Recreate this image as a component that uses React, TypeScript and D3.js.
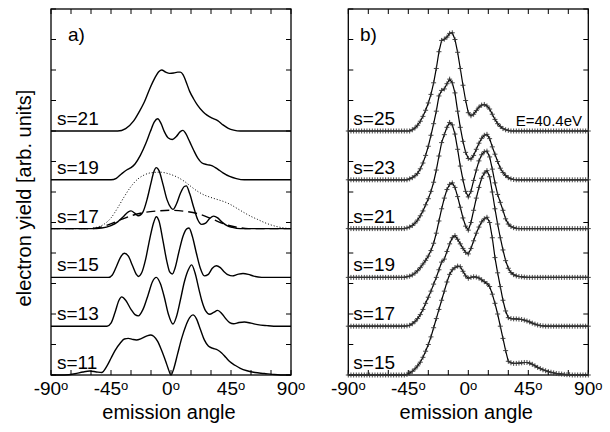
import React, { useEffect, useRef } from "react";
import * as d3 from "d3";

// panel a) : [angle, yield] pairs, bottom curve first
const A_LABELS = ["s=11", "s=13", "s=15", "s=17", "s=19", "s=21"];
const OFFSETS = [0, 1.6, 3.2, 4.8, 6.4, 8.0];

const A_S11 = [[-90,0],[-80,0],[-72,0.04],[-66,0.1],[-61,0.13],[-56,0.1],[-52,0.08],[-48,0.3],[-45,0.55],[-42,0.8],[-38,1.05],[-35,1.18],[-32,1.2],[-29,1.17],[-26,1.15],[-22,1.2],[-18,1.28],[-15.5,1.31],[-13,1.27],[-10,1.1],[-7,0.8],[-4,0.45],[-2,0.2],[0,0],[2,0.2],[5,0.7],[8,1.2],[11,1.6],[14,1.88],[16.5,1.97],[19,1.85],[22,1.5],[25,1.15],[28,0.95],[31,0.88],[35,0.82],[38,0.72],[41,0.58],[44,0.44],[48,0.32],[52,0.22],[57,0.14],[63,0.08],[70,0.05],[76,0.02],[82,0],[90,0]];
const A_S13 = [[-90,0],[-48,0],[-45,0.1],[-42,0.45],[-39,0.85],[-37,0.96],[-34,0.85],[-30,0.55],[-27,0.38],[-24.5,0.34],[-21,0.55],[-17,1.05],[-14,1.45],[-11,1.6],[-8,1.4],[-5,0.95],[-2,0.4],[1.5,0.07],[4,0.3],[7,0.85],[10,1.45],[13,1.85],[15.5,2.01],[18,1.75],[21,1.2],[23,0.85],[26,0.5],[29,0.39],[32,0.45],[35,0.52],[38,0.42],[41,0.25],[44,0.12],[47,0.08],[51,0.12],[55,0.14],[60,0.1],[65,0.05],[72,0.02],[80,0],[90,0]];
const A_S15 = [[-90,0],[-47,0],[-44,0.08],[-41,0.35],[-38,0.65],[-35,0.79],[-32,0.7],[-29,0.4],[-26,0.1],[-24.5,0.03],[-22,0.15],[-19,0.6],[-16,1.25],[-13,1.8],[-11,1.99],[-9,1.85],[-6,1.2],[-3,0.5],[-1,0.18],[1,0.11],[3,0.3],[6,0.85],[9,1.35],[12,1.6],[13.5,1.62],[16,1.35],[19,0.8],[22,0.3],[25,0.05],[28,0.1],[31,0.3],[34,0.38],[37,0.32],[40,0.18],[43,0.08],[46,0.05],[50,0.1],[54,0.13],[58,0.1],[62,0.04],[68,0],[90,0]];
const A_S17 = [[-90,0],[-60,0],[-52,0.02],[-45,0.1],[-40,0.22],[-36,0.38],[-32,0.55],[-30,0.58],[-27,0.5],[-24.5,0.42],[-21,0.55],[-18,0.95],[-15,1.5],[-13,1.85],[-11,2.0],[-9,1.9],[-6,1.45],[-3,0.95],[0,0.68],[1.5,0.63],[4,0.8],[7,1.15],[10,1.38],[11.5,1.4],[14,1.15],[17,0.7],[20,0.3],[23,0.14],[26,0.18],[29,0.33],[32,0.41],[35,0.35],[38,0.22],[42,0.1],[46,0.04],[52,0],[90,0]];
const A_S17_DASH = [[-90,0],[-60,0],[-50,0.08],[-40,0.25],[-30,0.42],[-20,0.53],[-10,0.58],[0,0.6],[10,0.57],[20,0.49],[30,0.33],[40,0.15],[50,0.04],[58,0],[90,0]];
const A_S17_DOT = [[-90,0],[-62,0],[-56,0.04],[-50,0.15],[-45,0.35],[-40,0.68],[-35,1.05],[-30,1.38],[-25,1.62],[-20,1.76],[-15,1.83],[-8,1.85],[-2,1.8],[5,1.68],[10,1.55],[15,1.38],[20,1.22],[25,1.1],[30,1.02],[35,0.95],[40,0.88],[45,0.78],[50,0.65],[55,0.52],[60,0.4],[65,0.3],[70,0.2],[75,0.12],[80,0.06],[85,0.02],[90,0]];
const A_S19 = [[-90,0],[-45,0],[-41,0.05],[-37,0.2],[-33,0.33],[-30,0.4],[-27,0.52],[-23,0.8],[-19,1.18],[-15.5,1.58],[-12.5,1.9],[-10,2.0],[-7.5,1.85],[-5,1.58],[-2,1.37],[1,1.32],[4,1.42],[7,1.58],[9,1.62],[11,1.52],[14,1.25],[17,0.97],[20,0.72],[23,0.56],[27,0.5],[31,0.46],[35,0.35],[39,0.23],[44,0.11],[49,0.04],[55,0],[90,0]];
const A_S21 = [[-90,0],[-40,0],[-34,0.08],[-28,0.33],[-24,0.62],[-20,0.95],[-16,1.38],[-12,1.75],[-9,1.95],[-7,2.0],[-4,1.93],[-1,1.89],[2,1.9],[5,1.93],[7,1.93],[9,1.85],[11,1.65],[14,1.3],[17,1.05],[20,0.84],[24,0.63],[27,0.52],[31,0.42],[35,0.34],[39,0.2],[43,0.09],[47,0.03],[52,0],[90,0]];

// panel b) : measured on a 2 degree grid, -90 .. 90
const B_LABELS = ["s=15", "s=17", "s=19", "s=21", "s=23", "s=25"];
const B_ANGLES = d3.range(-90, 91, 2);
const B_S15 = [
  0,0,0,0,0,0,0,0,0,0,
  0,0,0,0,0,0,0,0,0,0,
  0,0,0.02,0.06,0.12,0.2,0.3,0.42,0.58,0.78,
  1.0,1.25,1.55,1.85,2.15,2.45,2.75,3.05,3.3,3.45,
  3.52,3.57,3.55,3.4,3.25,3.17,3.2,3.22,3.21,3.18,
  3.12,3.06,3.0,2.9,2.65,2.35,2.0,1.6,1.2,0.8,
  0.45,0.4,0.38,0.38,0.39,0.4,0.41,0.41,0.39,0.35,
  0.3,0.25,0.21,0.17,0.14,0.11,0.09,0.07,0.05,0.04,
  0.03,0.02,0.01,0.01,0,0,0,0,0,0,
  0];
const B_S17 = [
  0,0,0,0,0,0,0,0,0,0,
  0,0,0,0,0,0,0,0,0,0,
  0,0,0.01,0.03,0.08,0.15,0.25,0.38,0.55,0.75,
  0.95,1.15,1.38,1.6,1.85,2.1,2.2,2.45,2.7,2.9,
  2.97,2.85,2.7,2.55,2.42,2.37,2.55,2.8,3.05,3.25,
  3.42,3.52,3.57,3.4,2.9,2.25,1.75,1.3,0.85,0.5,
  0.28,0.25,0.24,0.24,0.23,0.22,0.2,0.17,0.14,0.1,
  0.07,0.04,0.02,0.01,0,0,0,0,0,0,
  0,0,0,0,0,0,0,0,0,0,
  0];
const B_S19 = [
  0,0,0,0,0,0,0,0,0,0,
  0,0,0,0,0,0,0,0,0,0,
  0,0,0.02,0.04,0.08,0.14,0.22,0.32,0.44,0.56,
  0.7,0.88,1.12,1.45,1.85,2.25,2.6,2.88,3.05,3.1,
  2.95,2.65,2.3,1.95,1.68,1.55,1.8,2.2,2.6,2.95,
  3.25,3.42,3.5,3.3,2.8,2.25,1.75,1.3,0.9,0.55,
  0.3,0.16,0.09,0.05,0.03,0.02,0.01,0,0,0,
  0,0,0,0,0,0,0,0,0,0,
  0,0,0,0,0,0,0,0,0,0,
  0];
const B_S21 = [
  0,0,0,0,0,0,0,0,0,0,
  0,0,0,0,0,0,0,0,0,0,
  0,0,0.02,0.05,0.1,0.18,0.28,0.42,0.58,0.78,
  0.98,1.22,1.52,1.92,2.38,2.82,3.08,3.32,3.48,3.4,
  3.1,2.6,2.05,1.6,1.22,1.04,1.22,1.58,1.92,2.22,
  2.42,2.52,2.54,2.35,1.95,1.5,1.12,0.86,0.6,0.32,
  0.15,0.07,0.03,0.01,0,0,0,0,0,0,
  0,0,0,0,0,0,0,0,0,0,
  0,0,0,0,0,0,0,0,0,0,
  0];
const B_S23 = [
  0,0,0,0,0,0,0,0,0,0,
  0,0,0,0,0,0,0,0,0,0,
  0,0,0,0.03,0.07,0.13,0.21,0.36,0.55,0.8,
  1.1,1.46,1.84,2.25,2.75,2.93,2.98,3.15,3.3,3.18,
  2.85,2.25,1.72,1.26,0.9,0.7,0.68,0.8,1.0,1.2,
  1.36,1.46,1.49,1.35,1.08,0.84,0.6,0.38,0.24,0.14,
  0.07,0.03,0.01,0,0,0,0,0,0,0,
  0,0,0,0,0,0,0,0,0,0,
  0,0,0,0,0,0,0,0,0,0,
  0];
const B_S25 = [
  0,0,0,0,0,0,0,0,0,0,
  0,0,0,0,0,0,0,0,0,0,
  0,0,0,0,0.04,0.1,0.19,0.32,0.48,0.68,
  0.92,1.2,1.58,2.05,2.6,2.97,3.01,3.08,3.2,3.22,
  3.0,2.58,2.05,1.5,1.0,0.6,0.5,0.55,0.67,0.78,
  0.85,0.87,0.82,0.72,0.55,0.38,0.24,0.15,0.08,0.04,
  0.02,0,0,0,0,0,0,0,0,0,
  0,0,0,0,0,0,0,0,0,0,
  0,0,0,0,0,0,0,0,0,0,
  0];

const X_TICKS = d3.range(-90, 91, 15);
const X_LABELS = [-90, -45, 0, 45, 90];
const Y_TICKS = d3.range(0, 13, 1);

const FONT = "'Liberation Sans', Arial, Helvetica, sans-serif";

const App = () => {
  const ref = useRef(null);

  useEffect(() => {
    const top = 9, bottom = 375;
    const y = d3.scaleLinear().domain([0, 12]).range([bottom, top]);
    const xA = d3.scaleLinear().domain([-90, 90]).range([51, 291]);
    const xB = d3.scaleLinear().domain([-90, 90]).range([348.3, 588.3]);

    const svg = d3
      .select(ref.current)
      .html("")
      .append("svg")
      .attr("width", 610)
      .attr("height", 432)
      .style("position", "absolute")
      .style("left", "0px")
      .style("top", "0px")
      .style("background", "white")
      .attr("font-family", FONT);

    const frame = (x) => {
      const g = svg.append("g");
      const [x0, x1] = x.range();
      X_TICKS.forEach((t) => {
        g.append("line").attr("x1", x(t)).attr("x2", x(t)).attr("y1", bottom).attr("y2", bottom - 5)
          .attr("stroke", "black").attr("stroke-width", 1);
        g.append("line").attr("x1", x(t)).attr("x2", x(t)).attr("y1", top).attr("y2", top + 5)
          .attr("stroke", "black").attr("stroke-width", 1);
      });
      Y_TICKS.forEach((t) => {
        g.append("line").attr("x1", x0).attr("x2", x0 + 5).attr("y1", y(t)).attr("y2", y(t))
          .attr("stroke", "black").attr("stroke-width", 1);
        g.append("line").attr("x1", x1).attr("x2", x1 - 5).attr("y1", y(t)).attr("y2", y(t))
          .attr("stroke", "black").attr("stroke-width", 1);
      });
      g.append("rect").attr("x", x0).attr("y", top).attr("width", x1 - x0).attr("height", bottom - top)
        .attr("fill", "none").attr("stroke", "black").attr("stroke-width", 1.3);

      X_LABELS.forEach((t) => {
        const txt = g.append("text").attr("x", x(t)).attr("y", 395).attr("text-anchor", "middle")
          .attr("font-size", 19).attr("fill", "black");
        txt.append("tspan").text(String(t));
        txt.append("tspan").attr("font-size", 13).attr("dy", -5).text("o");
      });

      g.append("text").attr("x", (x0 + x1) / 2 - 2).attr("y", 419).attr("text-anchor", "middle")
        .attr("font-size", 20).attr("fill", "black").text("emission angle");
    };

    frame(xA);
    frame(xB);

    svg.append("text")
      .attr("transform", `translate(31,${(top + bottom) / 2 + 6}) rotate(-90)`)
      .attr("text-anchor", "middle").attr("font-size", 20).attr("fill", "black")
      .text("electron yield [arb. units]");

    svg.append("text").attr("x", 68).attr("y", 41).attr("font-size", 19).text("a)");
    svg.append("text").attr("x", 360).attr("y", 41).attr("font-size", 19).text("b)");
    svg.append("text").attr("x", 582).attr("y", 126).attr("text-anchor", "end")
      .attr("font-size", 15).text("E=40.4eV");

    // panel a
    const seriesA = [A_S11, A_S13, A_S15, A_S17, A_S19, A_S21];
    const lineA = (off) =>
      d3.line().x((d) => xA(d[0])).y((d) => y(d[1] + off)).curve(d3.curveMonotoneX);

    const off17 = OFFSETS[3];
    svg.append("path").attr("d", lineA(off17)(A_S17_DOT)).attr("fill", "none")
      .attr("stroke", "black").attr("stroke-width", 1).attr("stroke-dasharray", "1,2");
    svg.append("path").attr("d", lineA(off17)(A_S17_DASH)).attr("fill", "none")
      .attr("stroke", "black").attr("stroke-width", 1.4).attr("stroke-dasharray", "9,5");

    seriesA.forEach((s, i) => {
      svg.append("path").attr("d", lineA(OFFSETS[i])(s)).attr("fill", "none")
        .attr("stroke", "black").attr("stroke-width", 1.4);
      svg.append("text").attr("x", xA(-90) + 6).attr("y", y(OFFSETS[i]) - 6)
        .attr("font-size", 19).text(A_LABELS[i]);
    });

    // panel b
    const seriesB = [B_S15, B_S17, B_S19, B_S21, B_S23, B_S25];
    seriesB.forEach((vals, i) => {
      const pts = B_ANGLES.map((a, j) => [a, vals[j]]);
      const off = OFFSETS[i];
      const line = d3.line().x((d) => xB(d[0])).y((d) => y(d[1] + off));
      svg.append("path").attr("d", line(pts)).attr("fill", "none")
        .attr("stroke", "black").attr("stroke-width", 1.2);
      const marks = svg.append("g").attr("stroke", "#333").attr("stroke-width", 0.9);
      pts.forEach((d) => {
        const cx = xB(d[0]), cy = y(d[1] + off);
        marks.append("line").attr("x1", cx - 2.5).attr("x2", cx + 2.5).attr("y1", cy).attr("y2", cy);
        marks.append("line").attr("x1", cx).attr("x2", cx).attr("y1", cy - 2.5).attr("y2", cy + 2.5);
      });
      svg.append("text").attr("x", xB(-90) + 5).attr("y", y(off) - 6)
        .attr("font-size", 19).text(B_LABELS[i]);
    });
  }, []);

  return <div ref={ref} />;
};

export default App;
